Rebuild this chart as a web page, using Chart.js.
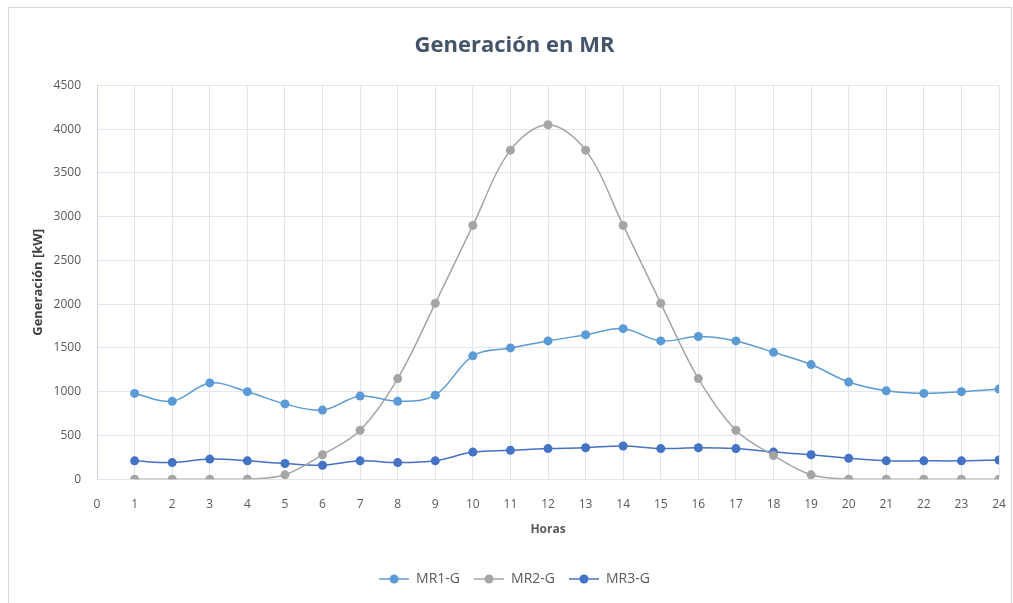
<!DOCTYPE html>
<html>
<head>
<meta charset="utf-8">
<script src="https://cdn.jsdelivr.net/npm/chart.js@4.4.1/dist/chart.umd.min.js"></script>
<style>
  html, body { margin: 0; padding: 0; background: #fff; overflow: hidden; }
  #marco { position: absolute; left: 8px; top: 7px; width: 1002px; height: 620px; border: 1px solid #d9d9d9; }
  #wrap { position: absolute; left: 0; top: 0; width: 1013px; height: 603px; }
</style>
</head>
<body>
<div id="marco"></div>
<div id="wrap"><canvas id="genChart"></canvas></div>
<script>
// horas del dia
const horas = [1, 2, 3, 4, 5, 6, 7, 8, 9, 10, 11, 12, 13, 14, 15, 16, 17, 18, 19, 20, 21, 22, 23, 24];

// generacion en kW por cada micro red
const mr1 = [980, 890, 1100, 1000, 860, 790, 950, 890, 960, 1410, 1500, 1580, 1650, 1720, 1580, 1630, 1580, 1450, 1310, 1110, 1010, 980, 1000, 1030];
const mr2 = [0, 0, 0, 0, 50, 280, 560, 1150, 2010, 2900, 3760, 4050, 3760, 2900, 2010, 1150, 560, 270, 50, 0, 0, 0, 0, 0];
const mr3 = [210, 190, 230, 210, 180, 160, 210, 190, 210, 310, 330, 350, 360, 380, 350, 360, 350, 310, 280, 240, 210, 210, 210, 220];

const nombres = ["MR1-G", "MR2-G", "MR3-G"];
const colores = ["#5b9bd5", "#a5a5a5", "#4472c4"];

const textoGris = "#595959";
const fuente = "'Open Sans', 'Liberation Sans', sans-serif";

function puntos(serie) {
  return horas.map((h, i) => ({ x: h, y: serie[i] }));
}

// icono de leyenda: linea con circulo
function iconoLeyenda(color) {
  const c = document.createElement("canvas");
  c.width = 30;
  c.height = 10;
  const g = c.getContext("2d");
  g.strokeStyle = color;
  g.lineWidth = 1.5;
  g.beginPath();
  g.moveTo(0, 5);
  g.lineTo(30, 5);
  g.stroke();
  g.fillStyle = color;
  g.beginPath();
  g.arc(15, 5, 4.5, 0, Math.PI * 2);
  g.fill();
  return c;
}

const series = [mr1, mr2, mr3];
const datasets = series.map((s, i) => ({
  label: nombres[i],
  data: puntos(s),
  borderColor: colores[i],
  backgroundColor: colores[i],
  borderWidth: 1.5,
  pointRadius: 4.5,
  pointHoverRadius: 4.5,
  pointBorderWidth: 0,
  tension: 0.35,
  fill: false
}));

const ctx = document.getElementById("genChart");
const chart = new Chart(ctx, {
  type: "line",
  data: { datasets: datasets },
  options: {
    responsive: true,
    maintainAspectRatio: false,
    animation: false,
    layout: { padding: { left: 30, right: 14, top: 0, bottom: 7 } },
    plugins: {
      title: {
        display: true,
        text: "Generación en MR",
        color: "#44546a",
        font: { family: fuente, size: 22, weight: "bold" },
        padding: { top: 33, bottom: 26 }
      },
      legend: {
        position: "bottom",
        labels: {
          color: textoGris,
          font: { family: fuente, size: 14 },
          usePointStyle: true,
          pointStyleWidth: 30,
          boxHeight: 10,
          padding: 14,
          generateLabels: (ch) => {
            const items = Chart.defaults.plugins.legend.labels.generateLabels(ch);
            items.forEach((it, i) => { it.pointStyle = iconoLeyenda(colores[i]); });
            return items;
          }
        }
      },
      tooltip: { enabled: false }
    },
    scales: {
      x: {
        type: "linear",
        min: 0,
        max: 24,
        afterFit: (s) => { s.paddingRight = 0; },
        ticks: { stepSize: 1, color: textoGris, font: { family: fuente, size: 12 }, padding: 18 },
        grid: { color: "#e0e5ee", drawTicks: false },
        border: { display: false },
        title: {
          display: true,
          text: "Horas",
          color: textoGris,
          font: { family: fuente, size: 12, weight: "bold" },
          padding: { top: -7, bottom: 21 }
        }
      },
      y: {
        min: 0,
        max: 4500,
        ticks: {
          stepSize: 500,
          color: textoGris,
          font: { family: fuente, size: 12 },
          padding: 16,
          callback: (v) => String(v)
        },
        grid: { color: "#e0e5ee", drawTicks: false },
        border: { color: "#c9d2e0" },
        title: {
          display: true,
          text: "Generación [kW]",
          color: "#404040",
          font: { family: fuente, size: 13, weight: "bold" },
          padding: { top: 0, bottom: -8 }
        }
      }
    }
  }
});
</script>
</body>
</html>
